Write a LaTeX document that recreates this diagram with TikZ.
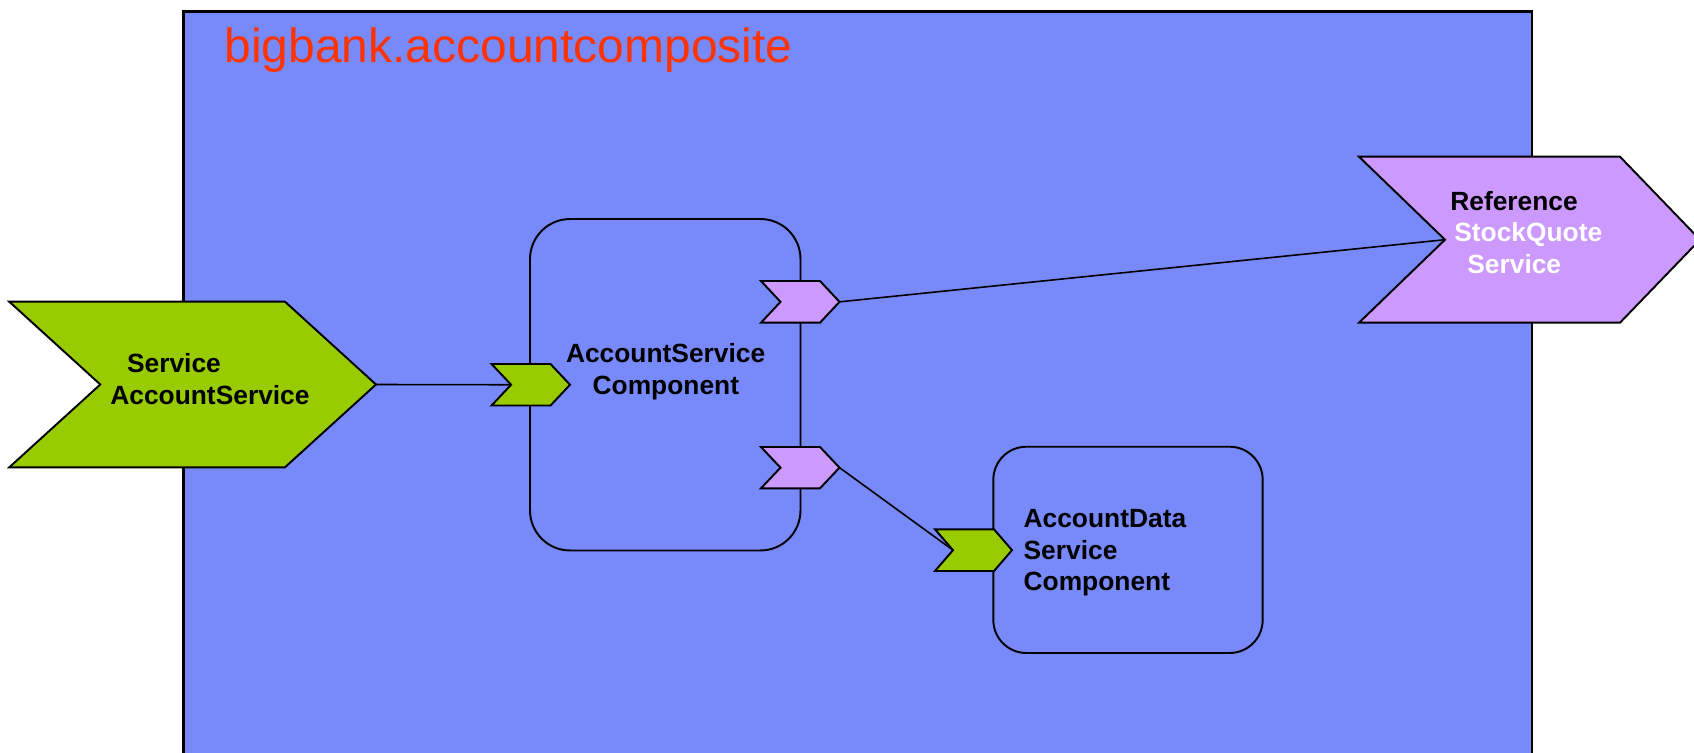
\documentclass[tikz,border=0pt]{standalone}
\usepackage{fontspec}
\setmainfont{Liberation Sans}

\definecolor{compblue}{RGB}{120,137,250}
\definecolor{svcgreen}{RGB}{153,204,0}
\definecolor{refpurple}{RGB}{204,153,255}
\definecolor{titlered}{RGB}{255,51,0}

% Chevron: #1 name, #2 style, #3 left x, #4 top y, #5 body right x,
% #6 bottom y, #7 notch depth, #8 tip depth.
% Defines coordinates <name>-tip and <name>-notch.
\newcommand\chevronshape[8]{%
  \draw[#2] (#3,#4) -- (#5,#4) -- ({#5+#8},{(#4+#6)/2}) -- (#5,#6)
    -- (#3,#6) -- ({#3+#7},{(#4+#6)/2}) -- cycle;
  \coordinate (#1-tip) at ({#5+#8},{(#4+#6)/2});
  \coordinate (#1-notch) at ({#3+#7},{(#4+#6)/2});
}

\begin{document}
\begin{tikzpicture}[x=0.02cm,y=-0.02cm,
  composite/.style={draw=black,line width=1.5pt,fill=compblue},
  compbox/.style={draw=black,line width=1.1pt,rectangle,inner sep=0pt},
  service/.style={draw=black,line width=1.1pt,fill=svcgreen,line join=miter},
  reference/.style={draw=black,line width=1.1pt,fill=refpurple,line join=miter},
  wire/.style={draw=black,line width=0.9pt},
  lbl/.style={anchor=base west,inner sep=0pt,font=\bfseries\fontsize{15}{18}\selectfont},
  title/.style={anchor=base west,inner sep=0pt,text=titlered,font=\fontsize{27.3}{32}\selectfont}]

\clip (0,0) rectangle (1694,753);
\fill[white] (0,0) rectangle (1694,753);

% composite
\draw[composite] (183.3,11.7) rectangle (1532,780);
\node[title] (comptitle) at (224.3,62.3) {bigbank.accountcomposite};

% components
\node[compbox,rounded corners=0.8cm,minimum width=5.41cm,minimum height=6.63cm]
  (asc) at (665.25,384.75) {};
\node[compbox,rounded corners=0.66cm,minimum width=5.388cm,minimum height=4.126cm]
  (adsc) at (1128,549.85) {};

\node[lbl] (asc-l1) at (565.7,362.7) {AccountService};
\node[lbl] (asc-l2) at (592.3,394) {Component};

\node[lbl] (adsc-l1) at (1023.3,527) {AccountData};
\node[lbl] (adsc-l2) at (1023.3,559.3) {Service};
\node[lbl] (adsc-l3) at (1023.3,590.7) {Component};

% services and references
\chevronshape{svc}{service}{9.3}{301.7}{285}{467.3}{91}{91}
\chevronshape{ascin}{service}{491.6}{364}{550.5}{405.5}{19.5}{19.5}
\chevronshape{ascref1}{reference}{761}{281}{820}{322.7}{19.5}{19.5}
\chevronshape{ascref2}{reference}{761}{447}{820}{488.3}{19.5}{19.5}
\chevronshape{adscin}{service}{935}{529.3}{994}{571}{18}{18}
\chevronshape{ref}{reference}{1359}{156.7}{1620}{322.7}{86}{80}

% wires
\draw[wire] (svc-tip) -- (ascin-notch);
\draw[wire] (ascref1-tip) -- (ref-notch);
\draw[wire] (ascref2-tip) -- (adscin-notch);

% chevron labels
\node[lbl] (svc-l1) at (126.7,372.3) {Service};
\node[lbl] (svc-l2) at (110,404.3) {AccountService};

\node[lbl] (ref-l1) at (1450,210.7) {Reference};
\node[lbl,text=white] (ref-l2) at (1454,241.7) {StockQuote};
\node[lbl,text=white] (ref-l3) at (1467,274) {Service};

\end{tikzpicture}
\end{document}
